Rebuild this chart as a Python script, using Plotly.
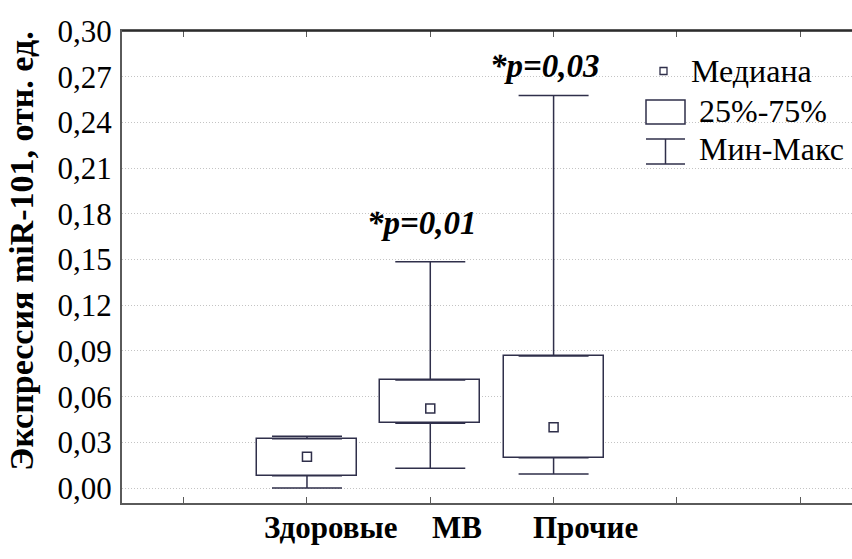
import plotly.graph_objects as go

# Group summary statistics (relative units)
groups = ["Здоровые", "МВ", "Прочие"]
positions = [1, 2, 3]
minimum = [0.0, 0.013, 0.0092]
q1 = [0.0081, 0.0425, 0.0199]
median = [0.0205, 0.0522, 0.0399]
q3 = [0.0324, 0.0709, 0.0867]
maximum = [0.0340, 0.1486, 0.2576]

# Significance labels placed above the whiskers
sig_labels = ["", "*p=0,01", "*p=0,03"]
sig_y = [None, 0.1740, 0.2770]

# Group names written under the axis (offset to the right of each box)
label_offsets = [0.19, 0.22, 0.26]

y_ticks = [round(0.03 * i, 2) for i in range(11)]

LINE = "#2f2f4a"
AXIS = "#5a5a5a"
SERIF = "'Times New Roman', 'Liberation Serif', Tinos, serif"

fig = go.Figure()

# 25%-75% boxes
fig.add_trace(go.Bar(
    x=positions,
    base=q1,
    y=[b - a for a, b in zip(q1, q3)],
    width=0.81,
    marker=dict(color="white", line=dict(color=LINE, width=1.5)),
    hoverinfo="skip",
    showlegend=False,
))

# Upper whiskers: from Q3 to maximum
fig.add_trace(go.Scatter(
    x=positions, y=q3, mode="markers",
    marker=dict(size=1, color="rgba(0,0,0,0)"),
    error_y=dict(type="data", symmetric=False,
                 array=[mx - b for mx, b in zip(maximum, q3)],
                 arrayminus=[0, 0, 0],
                 width=35, thickness=1.5, color=LINE),
    hoverinfo="skip", showlegend=False,
))

# Lower whiskers: from Q1 down to minimum
fig.add_trace(go.Scatter(
    x=positions, y=q1, mode="markers",
    marker=dict(size=1, color="rgba(0,0,0,0)"),
    error_y=dict(type="data", symmetric=False,
                 array=[0, 0, 0],
                 arrayminus=[a - mn for a, mn in zip(q1, minimum)],
                 width=35, thickness=1.5, color=LINE),
    hoverinfo="skip", showlegend=False,
))

# Medians
fig.add_trace(go.Scatter(
    x=positions, y=median, mode="markers",
    marker=dict(symbol="square-open", size=9, color=LINE, line=dict(width=1.5, color=LINE)),
    hoverinfo="skip", showlegend=False,
))

annotations = []
for p, txt, yv in zip(positions, sig_labels, sig_y):
    if txt:
        annotations.append(dict(
            x=p - 0.07, y=yv, xref="x", yref="y", text=f"<b><i>{txt}</i></b>",
            showarrow=False, xanchor="center", yanchor="middle",
            font=dict(family=SERIF, size=33, color="black"),
        ))

for p, name, off in zip(positions, groups, label_offsets):
    annotations.append(dict(
        x=p + off, y=-0.051, xref="x", yref="paper", text=f"<b>{name}</b>",
        showarrow=False, xanchor="center", yanchor="middle",
        font=dict(family=SERIF, size=31, color="black"),
    ))

# Y axis title
annotations.append(dict(
    x=-0.138, y=0.533, xref="paper", yref="paper",
    text="<b>Экспрессия miR-101, отн. ед.</b>", textangle=-90,
    showarrow=False, xanchor="center", yanchor="middle",
    font=dict(family=SERIF, size=34, color="black"),
))

# Custom legend (paper coordinates)
def px_x(v):
    return (v - 122) / 730

def px_y(v):
    return (503 - v) / 472

legend_texts = [("Медиана", 71), ("25%-75%", 111), ("Мин-Макс", 149)]
legend_x = [689, 697, 697]
for (txt, ypx), xpx in zip(legend_texts, legend_x):
    annotations.append(dict(
        x=px_x(xpx), y=px_y(ypx), xref="paper", yref="paper", text=txt,
        showarrow=False, xanchor="left", yanchor="middle",
        font=dict(family=SERIF, size=32, color="black"),
    ))

shapes = [
    # median marker symbol
    dict(type="rect", xref="paper", yref="paper",
         x0=px_x(660), x1=px_x(667), y0=px_y(74.5), y1=px_y(67.5),
         line=dict(color=LINE, width=1.3), fillcolor="white"),
    # box symbol
    dict(type="rect", xref="paper", yref="paper",
         x0=px_x(646), x1=px_x(685), y0=px_y(124), y1=px_y(100),
         line=dict(color=LINE, width=1.5), fillcolor="white"),
    # min-max symbol
    dict(type="line", xref="paper", yref="paper",
         x0=px_x(646), x1=px_x(685), y0=px_y(139), y1=px_y(139),
         line=dict(color=LINE, width=1.5)),
    dict(type="line", xref="paper", yref="paper",
         x0=px_x(646), x1=px_x(685), y0=px_y(164), y1=px_y(164),
         line=dict(color=LINE, width=1.5)),
    dict(type="line", xref="paper", yref="paper",
         x0=px_x(665.5), x1=px_x(665.5), y0=px_y(139), y1=px_y(164),
         line=dict(color=LINE, width=1.5)),
    # darker top frame line
    dict(type="line", xref="paper", yref="paper",
         x0=0, x1=1, y0=1, y1=1, line=dict(color="#1e1e1e", width=1.5)),
]

fig.update_layout(
    width=852, height=559,
    margin=dict(l=122, r=0, t=31, b=56),
    paper_bgcolor="white", plot_bgcolor="white",
    separators=",.",
    bargap=0,
    font=dict(family=SERIF, color="black"),
    annotations=annotations,
    shapes=shapes,
    showlegend=False,
    xaxis=dict(
        range=[-0.5, 5.42], tickvals=[0, 1, 2, 3, 4, 5], showticklabels=False,
        ticks="inside", ticklen=6, tickcolor=AXIS, tickwidth=1,
        showline=True, linecolor=AXIS, linewidth=2, mirror="ticks",
        showgrid=False, zeroline=False,
    ),
    yaxis=dict(
        range=[-0.0098, 0.30], tickvals=y_ticks, tickformat=".2f",
        ticks="", showline=True, linecolor=AXIS, linewidth=2,
        showgrid=True, gridcolor="#c4c4c4", griddash="1px,2px", gridwidth=1,
        zeroline=False, ticklabelstandoff=2,
        tickfont=dict(family=SERIF, size=31, color="black"),
    ),
)

fig.write_html("out.html")
